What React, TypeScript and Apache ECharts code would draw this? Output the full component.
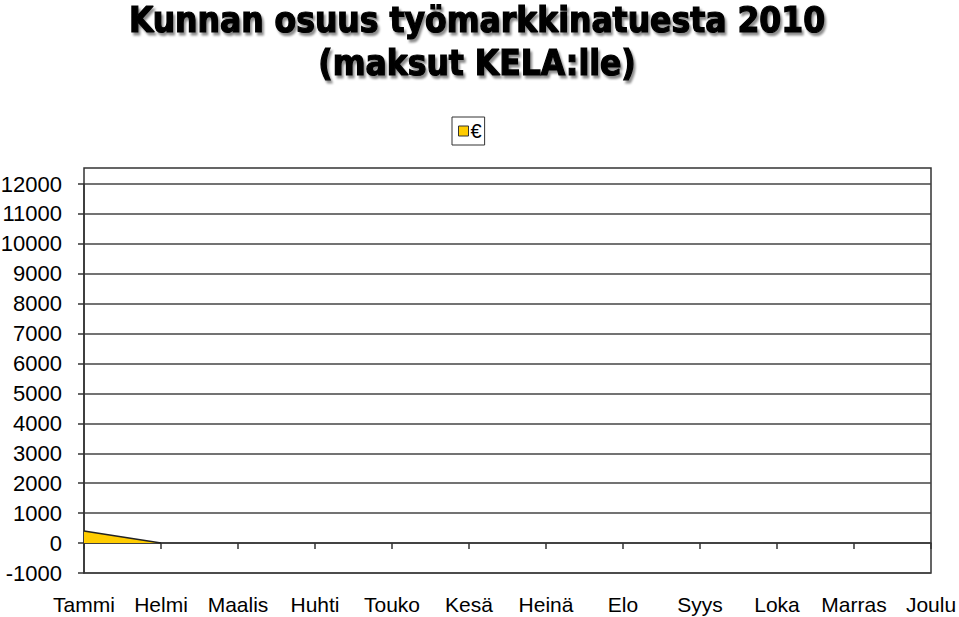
import { useEffect, useRef } from 'react';
import * as echarts from 'echarts';

const MONTHS = ['Tammi', 'Helmi', 'Maalis', 'Huhti', 'Touko', 'Kesä', 'Heinä', 'Elo', 'Syys', 'Loka', 'Marras', 'Joulu'];
const EURO_VALUES: (number | null)[] = [400, 0, null, null, null, null, null, null, null, null, null, null];
const Y_MIN = -1000;
const Y_MAX = 12000;
const Y_STEP = 1000;

const GRID = { left: 84, right: 28, top: 184, bottom: 44 };
const W = 959;
const H = 617;

export default function App() {
  const chartRef = useRef<HTMLDivElement>(null);

  useEffect(() => {
    if (!chartRef.current) return;
    const chart = echarts.init(chartRef.current, undefined, { renderer: 'svg' });

    const plotW = W - GRID.left - GRID.right;
    const frameTop = 168;
    const frameBottom = H - GRID.bottom;

    const option: echarts.EChartsOption = {
      animation: false,
      backgroundColor: '#fff',
      title: {
        text: 'Kunnan osuus työmarkkinatuesta 2010\n(maksut KELA:lle)',
        left: 472,
        top: -7,
        textAlign: 'center',
        textStyle: {
          fontFamily: "'DejaVu Sans Condensed', 'DejaVu Sans'",
          fontWeight: 'bold',
          fontSize: 35,
          lineHeight: 43,
          color: '#000',
          textBorderColor: '#000',
          textBorderWidth: 1.2,
          textShadowColor: 'rgba(0,0,0,0.45)',
          textShadowOffsetX: 2,
          textShadowOffsetY: 3,
          textShadowBlur: 2,
        },
      },
      legend: {
        left: 452,
        top: 117,
        itemWidth: 10,
        itemHeight: 10,
        itemGap: 0,
        padding: [4, 3, 4, 6],
        borderColor: '#333',
        borderWidth: 1,
        textStyle: { fontFamily: 'Liberation Sans', fontSize: 20, color: '#000', padding: [0, 0, 0, -3] },
        data: [{ name: '€', icon: 'rect', itemStyle: { color: '#FFCC00', borderColor: '#333', borderWidth: 1 } }],
      },
      grid: { ...GRID, containLabel: false, outerBoundsMode: 'none' } as any,
      xAxis: {
        type: 'category',
        data: MONTHS,
        boundaryGap: false,
        axisLine: { onZero: true, lineStyle: { color: '#333', width: 1.5 } },
        axisTick: { show: true, length: 6, inside: false, lineStyle: { color: '#333', width: 1.5 } },
        axisLabel: {
          interval: 0,
          margin: 21,
          color: '#000',
          fontFamily: 'Liberation Sans',
          fontSize: 21,
        },
        splitLine: { show: false },
      },
      yAxis: {
        type: 'value',
        min: Y_MIN,
        max: Y_MAX,
        interval: Y_STEP,
        axisLine: { show: true, lineStyle: { color: '#333', width: 1.5 } },
        axisTick: { show: true, length: 6, lineStyle: { color: '#333', width: 1.5 } },
        axisLabel: {
          margin: 22,
          color: '#000',
          fontFamily: 'Liberation Sans',
          fontSize: 22,
          formatter: (v: number) => String(v),
        },
        splitLine: { lineStyle: { color: '#444', width: 1.5 } },
      },
      graphic: [
        {
          type: 'rect',
          shape: { x: GRID.left, y: frameTop, width: plotW, height: frameBottom - frameTop },
          style: { fill: 'none', stroke: '#333', lineWidth: 1.5 },
          silent: true,
        },
      ],
      series: [
        {
          name: '€',
          type: 'line',
          data: EURO_VALUES,
          symbol: 'none',
          connectNulls: false,
          lineStyle: { color: '#222', width: 1.5 },
          itemStyle: { color: '#FFCC00' },
          areaStyle: { color: '#FFCC00', opacity: 1, origin: 0 },
        },
      ],
    };

    chart.setOption(option);
    return () => chart.dispose();
  }, []);

  return (
    <div
      ref={chartRef}
      style={{ position: 'absolute', left: 0, top: 0, width: W, height: H }}
    />
  );
}
